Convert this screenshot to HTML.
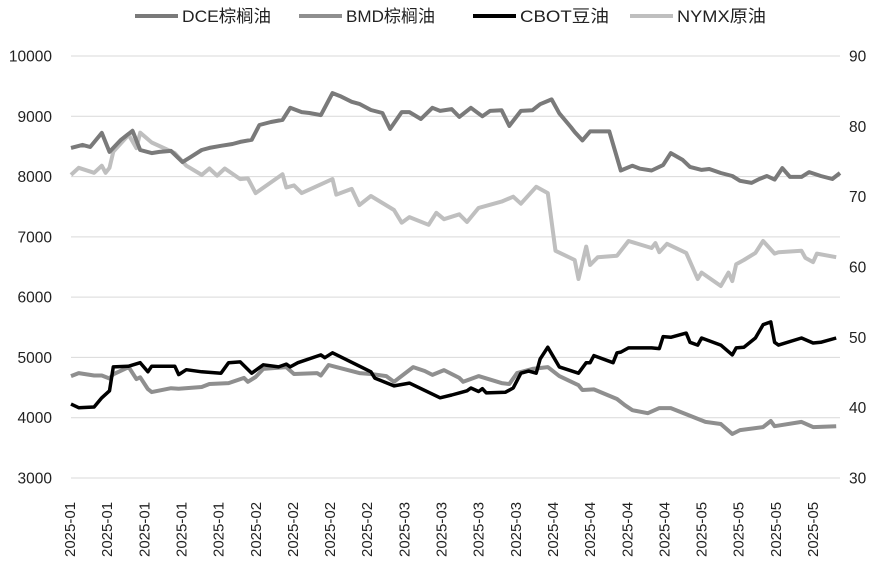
<!DOCTYPE html>
<html><head><meta charset="utf-8"><style>
html,body{margin:0;padding:0;background:#fff;}
svg text{font-family:"Liberation Sans","Noto Sans CJK SC",sans-serif;}
</style></head><body>
<svg id="chart" width="886" height="564" viewBox="0 0 886 564" xmlns="http://www.w3.org/2000/svg">
<g id="grid"></g>
<g id="yl"></g>
<g id="yr"></g>
<g id="xa"></g>
<g id="series"></g>
<g id="legend"></g>
</svg>
<script>
const xLabels = ["2025-01","2025-01","2025-01","2025-01","2025-01","2025-02","2025-02","2025-02","2025-02","2025-03","2025-03","2025-03","2025-03","2025-04","2025-04","2025-04","2025-04","2025-05","2025-05","2025-05","2025-05"];
const leftTicks = [3000,4000,5000,6000,7000,8000,9000,10000];
const rightTicks = [30,40,50,60,70,80,90];
const dceDays = [0,3,5,8,10,13,16,18,21,23,26,29,31,34,36,39,42,44,47,49,52,55,57,60,62,65,68,70,73,75,78,81,83,86,88,91,94,96,99,101,104,107,109,112,114,117,120,122,125,127,130,131,133,135,138,140,143,146,148,151,154,156,159,161,164,166,169,172,174,177,179,181,183,185,187,190,192,195,198,200];
const dceVals = [8475,8525,8490,8725,8410,8610,8760,8440,8390,8410,8425,8240,8320,8440,8475,8510,8540,8575,8610,8855,8905,8940,9140,9070,9055,9020,9385,9335,9240,9205,9105,9055,8790,9070,9070,8955,9140,9090,9120,8990,9140,9000,9090,9100,8840,9090,9100,9200,9280,9050,8820,8740,8600,8750,8750,8750,8100,8180,8130,8100,8190,8390,8280,8160,8110,8125,8060,8010,7930,7895,7960,8010,7950,8140,7995,7995,8075,8010,7960,8060];
const bmdDays = [0,2,6,8,10,11,15,17,18,20,21,26,28,34,36,41,45,46,48,50,56,58,64,65,67,69,75,78,82,84,89,92,94,97,101,102,106,112,114,116,120,124,127,132,133,136,142,144,146,150,153,156,165,169,172,174,180,182,183,190,193,199];
const bmdVals = [4690,4740,4700,4700,4650,4720,4840,4640,4670,4475,4425,4490,4480,4510,4560,4575,4660,4595,4675,4810,4840,4725,4740,4700,4875,4840,4740,4725,4690,4595,4840,4775,4710,4790,4660,4595,4690,4575,4560,4740,4810,4840,4690,4540,4460,4470,4310,4210,4125,4075,4160,4160,3930,3895,3730,3795,3845,3945,3860,3930,3845,3860];
const cbotDays = [0,2,6,8,10,11,15,18,20,21,27,28,30,34,39,41,44,47,50,54,56,57,59,65,66,68,78,79,84,88,96,99,101,103,104,106,107,108,113,115,117,119,121,122,124,127,132,134,135,136,141,142,143,145,151,153,154,156,160,161,163,164,169,172,173,175,178,180,182,183,184,190,193,195,199];
const cbotVals = [40.5,40.0,40.1,41.4,42.4,45.8,45.9,46.4,45.1,45.9,45.9,44.7,45.4,45.1,44.9,46.4,46.5,44.9,46.1,45.8,46.2,45.8,46.4,47.5,47.1,47.8,45.1,44.2,43.1,43.5,41.4,41.8,42.1,42.4,42.8,42.3,42.7,42.1,42.2,42.8,44.9,45.2,44.9,46.9,48.6,45.8,44.9,46.4,46.4,47.4,46.4,47.8,47.9,48.5,48.5,48.4,50.1,50.0,50.6,49.3,48.9,49.9,48.9,47.5,48.5,48.6,49.9,51.8,52.2,49.3,48.9,49.9,49.2,49.3,49.9];
const nymxDays = [0,2,6,8,9,10,11,15,17,18,21,27,30,34,36,38,40,44,46,48,55,56,58,60,68,69,73,75,78,84,86,88,93,95,97,101,103,106,112,115,117,121,124,126,131,132,134,135,137,142,145,151,152,153,155,160,163,164,169,171,172,173,175,178,180,183,184,190,191,193,194,199];
const nymxVals = [73.1,74.1,73.4,74.4,73.4,74.1,76.4,78.8,76.9,79.1,77.7,76.2,74.4,73.1,74.0,73.0,74.0,72.5,72.6,70.5,73.2,71.3,71.6,70.5,72.5,70.3,71.1,68.8,70.1,68.1,66.3,67.1,66.0,67.7,66.8,67.5,66.4,68.4,69.3,70.0,69.0,71.4,70.5,62.3,61.0,58.3,62.9,60.3,61.4,61.6,63.7,62.7,63.4,62.1,63.3,62.0,58.3,59.2,57.3,59.2,58.0,60.4,61.0,62.0,63.7,61.9,62.1,62.3,61.3,60.7,61.9,61.4];

const NS = "http://www.w3.org/2000/svg";
const X0 = 71, X1 = 840, Y0 = 478, Y1 = 56;
const xScale = d => X0 + d / 200 * (X1 - X0);
const yLeft = v => Y0 - (v - 3000) / 7000 * (Y0 - Y1);
const yRight = v => Y0 - (v - 30) / 60 * (Y0 - Y1);
function mk(tag, attrs, parent) { const e = document.createElementNS(NS, tag); for (const k in attrs) e.setAttribute(k, attrs[k]); parent.appendChild(e); return e; }

const grid = document.getElementById('grid');
leftTicks.forEach(t => {
  const l = mk('line', {x1: X0, x2: X1, y1: yLeft(t), y2: yLeft(t), stroke: '#d9d9d9', 'stroke-width': 1}, grid);
  
  
});
const yl = document.getElementById('yl');
leftTicks.forEach(t => {
  const e = mk('text', {x: 52, y: yLeft(t) + 5.5, 'text-anchor': 'end', 'font-size': 15.5, fill: '#222'}, yl);
  e.textContent = t;
  
  
});
const yr = document.getElementById('yr');
rightTicks.forEach(t => {
  const e = mk('text', {x: 849, y: yRight(t) + 5.5, 'text-anchor': 'start', 'font-size': 15.5, fill: '#222'}, yr);
  e.textContent = t;
  
  
});
const xa = document.getElementById('xa');
xLabels.forEach((t, i) => {
  const x = 70 + i * 37.15 + 5;
  const e = mk('text', {x: 0, y: 0, transform: `translate(${x},557) rotate(-90)`, 'text-anchor': 'start', 'font-size': 15, fill: '#222'}, xa);
  e.textContent = t;
  
  
});
const sg = document.getElementById('series');
function drawLine(days, vals, yf, color, w, name) {
  const pts = days.map((d, i) => xScale(d).toFixed(1) + ',' + yf(vals[i]).toFixed(1)).join(' ');
  const p = mk('polyline', {points: pts, fill: 'none', stroke: color, 'stroke-width': w, 'stroke-linejoin': 'round'}, sg);
  
  
}
drawLine(nymxDays, nymxVals, yRight, '#bfbfbf', 4, 'nymx-crude-line');
drawLine(bmdDays, bmdVals, yLeft, '#8f8f8f', 4, 'bmd-palm-oil-line');
drawLine(dceDays, dceVals, yLeft, '#7a7a7a', 4, 'dce-palm-oil-line');
drawLine(cbotDays, cbotVals, yRight, '#000', 3.5, 'cbot-soybean-oil-line');

const lg = document.getElementById('legend');
[['DCE棕榈油', '#7a7a7a', 135], ['BMD棕榈油', '#8f8f8f', 299], ['CBOT豆油', '#000', 473], ['NYMX原油', '#bfbfbf', 630]].forEach(([t, c, x]) => {
  const g = mk('g', {}, lg);
  
  
  mk('line', {x1: x, x2: x + 43, y1: 16, y2: 16, stroke: c, 'stroke-width': 4}, g);
  const e = mk('text', {x: x + 47, y: 22, 'font-size': 17, fill: '#222', textLength: t.length === 6 ? 89 : 82, lengthAdjust: 'spacingAndGlyphs'}, g);
  e.textContent = t;
});
</script>
</body></html>
